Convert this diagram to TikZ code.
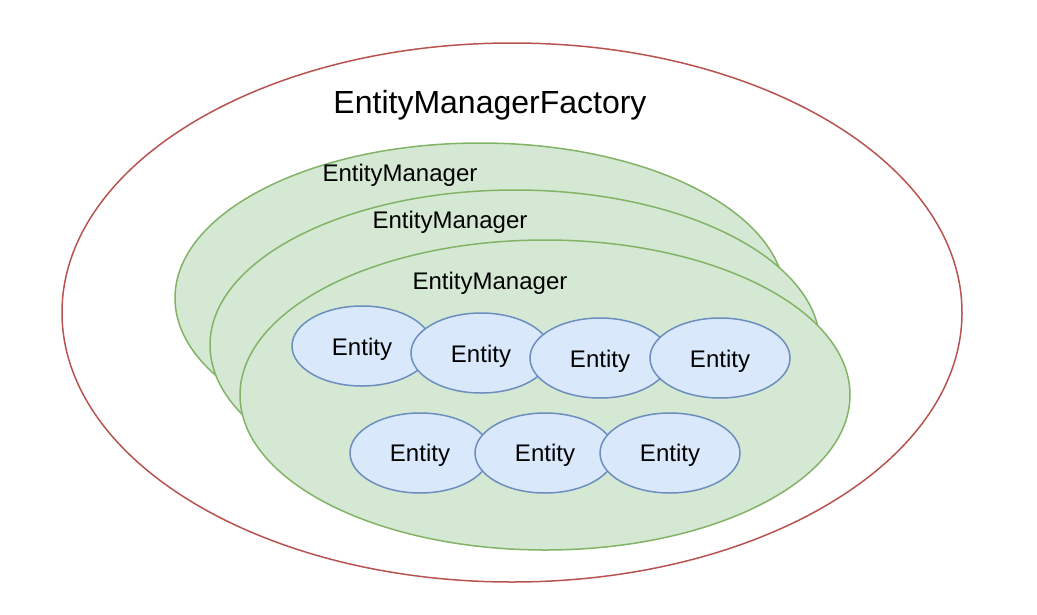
\documentclass[tikz,border=0pt]{standalone}
\usetikzlibrary{shapes.geometric}
\usepackage{fontspec}
\setmainfont{Liberation Sans}
\definecolor{emfill}{HTML}{D5E8D4}
\definecolor{emline}{HTML}{82B366}
\definecolor{enfill}{HTML}{DAE8FC}
\definecolor{enline}{HTML}{6C8EBF}
\definecolor{emfline}{HTML}{B85450}
\tikzset{
  emf/.style={ellipse, draw=emfline, line width=1.5pt, fill=white, inner sep=0pt, minimum width=900pt, minimum height=539pt},
  em/.style={ellipse, draw=emline, line width=1.5pt, fill=emfill, inner sep=0pt, minimum width=610pt, minimum height=310pt},
  ent/.style={ellipse, draw=enline, line width=1.5pt, fill=enfill, inner sep=0pt, minimum width=140pt, minimum height=80pt},
  enttxt/.style={inner sep=0pt, font=\fontsize{24}{28}\selectfont},
  lbl/.style={inner sep=0pt, font=\fontsize{24}{28}\selectfont},
  biglbl/.style={inner sep=0pt, font=\fontsize{32}{38}\selectfont}
}
\begin{document}
\begin{tikzpicture}[x=1pt,y=-1pt]
\useasboundingbox[fill=white] (0,0) rectangle (1037,614);
\node[emf] (emf) at (512,312.5) {};
\node[biglbl] (emfl) at (490,105) {EntityManagerFactory};
\node[em] (em1) at (480,298) {};
\node[lbl] (em1l) at (400,175) {EntityManager};
\node[em] (em2) at (515,345) {};
\node[lbl] (em2l) at (450,222) {EntityManager};
\node[em] (em3) at (545,395) {};
\node[lbl] (em3l) at (490,283) {EntityManager};
\node[ent] (e1) at (362,346) {};
\node[enttxt] at (e1.center) [yshift=-3pt] {Entity};
\node[ent] (e2) at (481,353) {};
\node[enttxt] at (e2.center) [yshift=-3pt] {Entity};
\node[ent] (e3) at (600,358) {};
\node[enttxt] at (e3.center) [yshift=-3pt] {Entity};
\node[ent] (e4) at (720,358) {};
\node[enttxt] at (e4.center) [yshift=-3pt] {Entity};
\node[ent] (e5) at (420,453) {};
\node[enttxt] at (e5.center) [yshift=-2pt] {Entity};
\node[ent] (e6) at (545,453) {};
\node[enttxt] at (e6.center) [yshift=-2pt] {Entity};
\node[ent] (e7) at (670,453) {};
\node[enttxt] at (e7.center) [yshift=-2pt] {Entity};
\end{tikzpicture}
\end{document}
